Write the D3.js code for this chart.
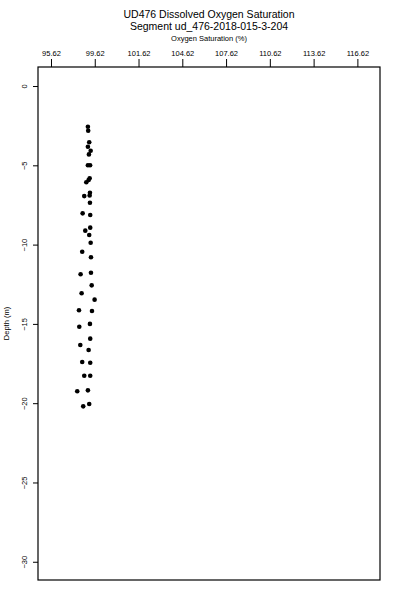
<!DOCTYPE html>
<html>
<head>
<meta charset="utf-8">
<script src="https://cdn.jsdelivr.net/npm/d3@7"></script>
<style>
  body { margin: 0; background: #fff; }
  text { font-family: "Liberation Sans", Arial, sans-serif; fill: #000; }
</style>
</head>
<body>
<div id="chart"></div>
<script>
// oxygen saturation (%) and depth (m)
var saturation = [98.15, 98.17, 98.24, 98.15, 98.34, 98.22, 98.15, 98.30, 98.27, 98.20,
                  98.04, 98.29, 98.27, 97.90, 98.29, 97.79, 98.31, 98.31, 97.97, 98.24,
                  98.34, 97.76, 98.36, 97.65, 98.36, 98.41, 97.72, 98.61, 97.54, 98.43,
                  98.29, 97.56, 98.31, 97.63, 98.20, 97.76, 98.31, 97.90, 98.31, 97.42,
                  98.15, 97.83, 98.24];
var depth = [-2.57, -2.82, -3.55, -3.83, -4.08, -4.31, -5.00, -5.00, -5.82, -5.93,
             -6.07, -6.73, -6.90, -6.94, -7.36, -8.03, -8.13, -8.93, -9.12, -9.39,
             -9.88, -10.45, -10.80, -11.87, -11.77, -12.57, -13.07, -13.47, -14.14, -14.19,
             -15.00, -15.18, -15.93, -16.33, -16.65, -17.40, -17.45, -18.27, -18.27, -19.25,
             -19.19, -20.20, -20.05];
var xTickValues = [95.62, 98.62, 101.62, 104.62, 107.62, 110.62, 113.62, 116.62];
var xTickLabels = ["95.62", "99.62", "101.62", "104.62", "107.62", "110.62", "113.62", "116.62"];
var yTickValues = [0, -5, -10, -15, -20, -25, -30];

var width = 400, height = 600;
var box = {left: 38, top: 67, right: 380, bottom: 580};

var svg = d3.select('#chart').append('svg')
            .attr('width', width)
            .attr('height', height);

var x = d3.scaleLinear().domain([94.73, 118.17]).range([box.left, box.right]);
var y = d3.scaleLinear().domain([1.2, -31.15]).range([box.top, box.bottom]);

// top axis
var xAxis = svg.append('g')
  .attr('transform', 'translate(0,' + box.top + ')')
  .call(d3.axisTop(x).tickValues(xTickValues)
          .tickFormat(function(d, i) { return xTickLabels[i]; })
          .tickSize(8).tickPadding(3));
xAxis.select('.domain').remove();
xAxis.selectAll('text').style('font-size', '7.5px');

// left axis, labels turned like R's default
var yAxis = svg.append('g')
  .attr('transform', 'translate(' + box.left + ',0)')
  .call(d3.axisLeft(y).tickValues(yTickValues).tickSize(5)
          .tickFormat(d3.format('d')));
yAxis.select('.domain').remove();
yAxis.selectAll('text')
  .style('font-size', '7.5px')
  .attr('text-anchor', 'middle')
  .attr('transform', 'rotate(-90)')
  .attr('x', 0)
  .attr('y', -11)
  .attr('dy', 0);

svg.selectAll('.tick line').attr('stroke', '#000').attr('stroke-width', 1);

// frame
svg.append('rect')
  .attr('x', box.left).attr('y', box.top)
  .attr('width', box.right - box.left).attr('height', box.bottom - box.top)
  .attr('fill', 'none').attr('stroke', '#000').attr('stroke-width', 1.2);

// points
svg.selectAll('circle.pt').data(saturation).enter()
  .append('circle')
  .attr('class', 'pt')
  .attr('cx', function(d) { return x(d); })
  .attr('cy', function(d, i) { return y(depth[i]); })
  .attr('r', 2.3)
  .attr('fill', '#000');

// titles
var cx = (box.left + box.right) / 2;
svg.append('text').attr('x', cx).attr('y', 18).attr('text-anchor', 'middle')
  .style('font-size', '10.5px').text('UD476 Dissolved Oxygen Saturation');
svg.append('text').attr('x', cx).attr('y', 30).attr('text-anchor', 'middle')
  .style('font-size', '10.5px').text('Segment ud_476-2018-015-3-204');
svg.append('text').attr('x', cx).attr('y', 41).attr('text-anchor', 'middle')
  .style('font-size', '7.5px').text('Oxygen Saturation (%)');
svg.append('text')
  .attr('transform', 'translate(9,' + ((box.top + box.bottom) / 2) + ') rotate(-90)')
  .attr('text-anchor', 'middle')
  .style('font-size', '7.5px').text('Depth (m)');
</script>
</body>
</html>
